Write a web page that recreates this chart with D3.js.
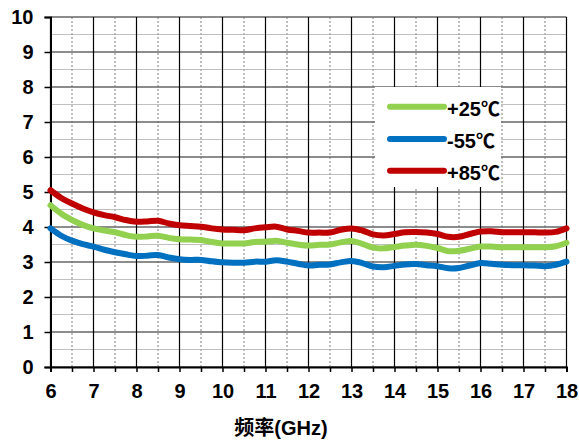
<!DOCTYPE html>
<html>
<head>
<meta charset="utf-8">
<script src="https://cdn.jsdelivr.net/npm/d3@7"></script>
<style>
  body { margin: 0; background: #fff; }
  text { font-family: "Liberation Sans", Arial, "Noto Sans CJK SC", sans-serif; font-weight: bold; }
</style>
</head>
<body>
<script>
// frequency points (GHz)
var freq = d3.range(6, 18.001, 0.25);

// series values
var t25 = [4.62, 4.38, 4.20, 4.06, 3.96, 3.90, 3.85, 3.77, 3.72, 3.73, 3.75, 3.69, 3.65, 3.64, 3.63, 3.57,
           3.53, 3.53, 3.53, 3.57, 3.58, 3.61, 3.55, 3.50, 3.47, 3.49, 3.50, 3.56, 3.60, 3.52, 3.41, 3.39,
           3.43, 3.47, 3.49, 3.46, 3.40, 3.31, 3.32, 3.38, 3.44, 3.44, 3.42, 3.42, 3.42, 3.42, 3.42, 3.45, 3.55];
var tm55 = [3.96, 3.75, 3.61, 3.51, 3.44, 3.35, 3.28, 3.22, 3.17, 3.18, 3.20, 3.13, 3.08, 3.06, 3.06, 3.02,
            2.99, 2.98, 2.98, 3.01, 3.01, 3.05, 3.01, 2.95, 2.90, 2.92, 2.93, 2.99, 3.03, 2.97, 2.87, 2.85,
            2.89, 2.93, 2.94, 2.91, 2.88, 2.82, 2.83, 2.90, 2.97, 2.95, 2.92, 2.91, 2.91, 2.90, 2.88, 2.92, 3.01];
var t85 = [5.05, 4.83, 4.67, 4.53, 4.42, 4.34, 4.28, 4.20, 4.15, 4.16, 4.18, 4.10, 4.05, 4.03, 4.01, 3.96,
           3.93, 3.92, 3.91, 3.96, 3.99, 4.01, 3.93, 3.89, 3.84, 3.84, 3.84, 3.92, 3.96, 3.90, 3.79, 3.76,
           3.80, 3.85, 3.86, 3.84, 3.80, 3.72, 3.72, 3.80, 3.87, 3.88, 3.85, 3.85, 3.85, 3.85, 3.84, 3.86, 3.96];

var seriesNames = ["+25", "-55", "+85"];
var seriesColors = ["#92D050", "#0070C0", "#C00000"];
var xTicks = d3.range(6, 19, 1);
var yTicks = d3.range(0, 11, 1);

// chart layout
var width = 579, height = 444;
var x = d3.scaleLinear().domain([6, 18]).range([50.5, 566.5]);
var y = d3.scaleLinear().domain([0, 10]).range([367, 17]);

var svg = d3.select("body").append("svg").attr("width", width).attr("height", height);

// grid: minor lines at half steps
var grid = svg.append("g");
grid.selectAll(".hminor").data(d3.range(0.5, 10, 1)).enter().append("line")
    .attr("x1", x(6)).attr("x2", x(18))
    .attr("y1", function(d) { return y(d); }).attr("y2", function(d) { return y(d); })
    .style("stroke", "#c0c0c0").style("stroke-width", 1);
grid.selectAll(".vminor").data(d3.range(6.5, 18, 1)).enter().append("line")
    .attr("x1", function(d) { return x(d); }).attr("x2", function(d) { return x(d); })
    .attr("y1", y(10)).attr("y2", y(0))
    .style("stroke", "#aaa").style("stroke-width", 1.5).style("stroke-dasharray", "2,2");

// grid: major lines
grid.selectAll(".hmajor").data(yTicks).enter().append("line")
    .attr("x1", x(6)).attr("x2", x(18))
    .attr("y1", function(d) { return y(d); }).attr("y2", function(d) { return y(d); })
    .style("stroke", "#666").style("stroke-width", 1.5);
grid.selectAll(".vmajor").data(xTicks).enter().append("line")
    .attr("x1", function(d) { return x(d); }).attr("x2", function(d) { return x(d); })
    .attr("y1", y(10)).attr("y2", y(0))
    .style("stroke", "#000").style("stroke-width", 1.2);

// axes
var yAxis = d3.axisLeft(y).tickValues(yTicks).tickSize(6).tickPadding(11);
var xAxis = d3.axisBottom(x).tickValues(d3.range(6, 18.01, 0.5)).tickSize(5).tickPadding(12)
    .tickFormat(function(d) { return d % 1 === 0 ? d : ""; });

var gy = svg.append("g").attr("transform", "translate(" + x(6) + ",0)").call(yAxis);
var gx = svg.append("g").attr("transform", "translate(0," + y(0) + ")").call(xAxis);
[gx, gy].forEach(function(g) {
    g.select(".domain").style("stroke", "#000").style("stroke-width", 2);
    g.selectAll(".tick line").style("stroke", "#000").style("stroke-width", 1.5);
    g.selectAll("text").style("font-size", "20px").style("fill", "#000")
        .style("font-family", "'Liberation Sans', Arial, sans-serif").style("font-weight", "bold");
});

// data lines
var line = d3.line()
    .x(function(d, i) { return x(freq[i]); })
    .y(function(d) { return y(d); })
    .curve(d3.curveCatmullRom);

[t25, tm55, t85].forEach(function(s, i) {
    svg.append("path").datum(s).attr("d", line)
        .style("fill", "none").style("stroke", seriesColors[i])
        .style("stroke-width", 6).style("stroke-linecap", "round").style("stroke-linejoin", "round");
});

// legend
var legend = svg.append("g");
legend.append("rect").attr("x", 375).attr("y", 87).attr("width", 126).attr("height", 100).style("fill", "#fff");
var legendY = [106.7, 139, 170.7];
seriesNames.forEach(function(name, i) {
    legend.append("line").attr("x1", 390).attr("x2", 444)
        .attr("y1", legendY[i]).attr("y2", legendY[i])
        .style("stroke", seriesColors[i]).style("stroke-width", 6).style("stroke-linecap", "round");
    var t = legend.append("text").attr("x", 447).attr("y", legendY[i] + 9)
        .style("font-size", "20px").style("fill", "#000");
    t.append("tspan").text(name);
    t.append("tspan").style("font-family", "'Noto Sans CJK SC', sans-serif").style("font-size", "19px").text("℃");
});

// x axis title
svg.append("text").attr("x", 281).attr("y", 435).attr("text-anchor", "middle")
    .style("font-size", "20px").style("fill", "#000").text("频率(GHz)");
</script>
</body>
</html>
